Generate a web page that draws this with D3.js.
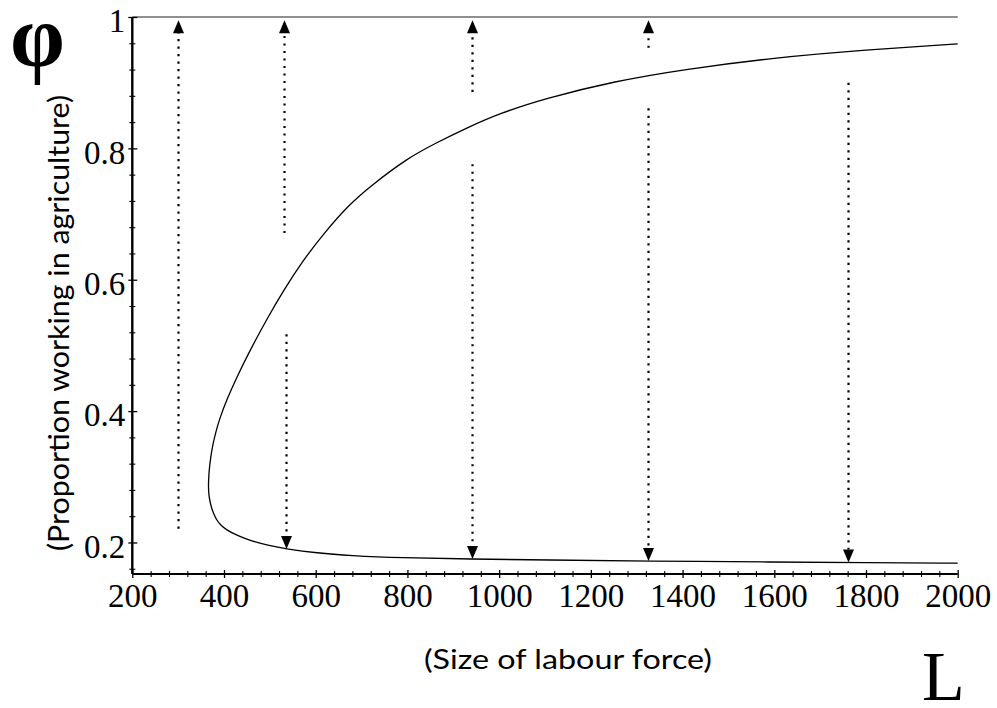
<!DOCTYPE html>
<html>
<head>
<meta charset="utf-8">
<script src="https://cdn.jsdelivr.net/npm/d3@7"></script>
<style>
  html, body { margin: 0; padding: 0; background: #fff; }
  svg { display: block; }
</style>
</head>
<body>
<svg id="chart" width="997" height="708"></svg>
<script>
// ---- data ----
// equilibrium curve, ordered from the upper branch end through the fold to the lower branch end
const curveL   = [2000, 1800, 1600, 1400, 1250, 1100, 1000, 938, 860, 800, 720, 672, 617, 573, 530, 496.5, 457, 426.7, 405.7, 391.3, 382.7, 375.9, 370.9, 367.6, 366.3, 366,
                  367, 369.5, 373, 378, 384, 393, 406, 422, 442, 466, 493, 537, 602, 675, 784, 938, 1100, 1327, 1600, 1800, 2000];
const curvePhi = [0.959, 0.950, 0.938, 0.920, 0.902, 0.876, 0.853, 0.834, 0.8075, 0.785, 0.743, 0.714, 0.670, 0.630, 0.584, 0.544, 0.493, 0.450, 0.417, 0.390, 0.370, 0.350, 0.330, 0.310, 0.295, 0.283,
                  0.272, 0.262, 0.252, 0.243, 0.234, 0.226, 0.219, 0.213, 0.207, 0.201, 0.196, 0.190, 0.184, 0.180, 0.1765, 0.1748, 0.1733, 0.1717, 0.1702, 0.1693, 0.1685];
// upper stable equilibrium phi = 1
const topLineL   = [200, 2000];
const topLinePhi = [1, 1];
// dotted arrows: L position, start phi, end phi (tip)
const arrowL     = [300,   530,   535,   940,   940,    1325,  1325,   1760];
const arrowFrom  = [0.221, 0.671, 0.517, 0.886, 0.776,  0.953, 0.861,  0.900];
const arrowTo    = [0.995, 0.995, 0.190, 0.995, 0.1748, 0.995, 0.1717, 0.1695];
// ticks
const xMajorTicks = [200, 400, 600, 800, 1000, 1200, 1400, 1600, 1800, 2000];
const yMajorTicks = [0.2, 0.4, 0.6, 0.8, 1];
const yTickLabels = ["0.2", "0.4", "0.6", "0.8", "1"];
const xTitle = "(Size of labour force)";
const yTitle = "(Proportion working in agriculture)";
const xSymbol = "L";
const ySymbol = "φ";

// ---- drawing ----
const svg = d3.select("#chart");
const x = d3.scaleLinear().domain([200, 2000]).range([132.3, 957.7]);
const y = d3.scaleLinear().domain([0.152, 1]).range([574, 17]);

const xMinor = d3.range(240, 2000, 40).filter(v => v % 200 !== 0);
const yMinor = d3.range(16, 100, 4).map(v => v / 100).filter(v => Math.round(v * 100) % 20 !== 0);

const serif = "'Liberation Serif', 'DejaVu Serif', serif";
const sans = "Lato, 'Liberation Sans', sans-serif";

// top line phi=1
svg.append("path")
  .attr("d", d3.line().x((d, i) => x(topLineL[i])).y((d, i) => y(topLinePhi[i]))(topLineL))
  .attr("stroke", "#6a6a6a").attr("stroke-width", 1.6).attr("fill", "none");

// x axis
const gx = svg.append("g").attr("transform", `translate(0,${y.range()[0]})`);
gx.call(d3.axisBottom(x).tickValues(xMajorTicks).tickFormat(d3.format("d")).tickSize(4).tickSizeOuter(0));
gx.select(".domain").attr("stroke", "#000").attr("stroke-width", 2.2).attr("d", `M${x(200)},0H${x(2000)}`);
gx.selectAll(".tick line").attr("y1", -4).attr("y2", 4).attr("stroke-width", 1.3);
gx.selectAll(".tick text").attr("y", 33).attr("dy", 0).attr("font-family", serif).attr("font-size", 33).attr("fill", "#000");
const gxm = svg.append("g").attr("transform", `translate(0,${y.range()[0]})`);
gxm.call(d3.axisBottom(x).tickValues(xMinor).tickFormat("").tickSizeOuter(0));
gxm.select(".domain").remove();
gxm.selectAll(".tick line").attr("y1", -3).attr("y2", 3).attr("stroke-width", 1.1);

// y axis
const gy = svg.append("g").attr("transform", `translate(${x.range()[0]},0)`);
gy.call(d3.axisLeft(y).tickValues(yMajorTicks).tickFormat((d, i) => yTickLabels[i]).tickSize(4).tickSizeOuter(0));
gy.select(".domain").attr("stroke", "#000").attr("stroke-width", 2.4).attr("d", `M0,${y(0.152)}V${y(1)}`);
gy.selectAll(".tick line").attr("x1", -4).attr("x2", 5).attr("stroke-width", 1.3);
gy.selectAll(".tick text").attr("x", -7).attr("dy", "0.45em").attr("font-family", serif).attr("font-size", 33).attr("fill", "#000");
const gym = svg.append("g").attr("transform", `translate(${x.range()[0]},0)`);
gym.call(d3.axisLeft(y).tickValues(yMinor).tickFormat("").tickSizeOuter(0));
gym.select(".domain").remove();
gym.selectAll(".tick line").attr("x1", -3).attr("x2", 3).attr("stroke-width", 1.1);

// curve
const line = d3.line()
  .x((d, i) => x(curveL[i]))
  .y((d, i) => y(curvePhi[i]))
  .curve(d3.curveBasis);
svg.append("path")
  .attr("d", line(curveL))
  .attr("fill", "none").attr("stroke", "#000").attr("stroke-width", 1.3);

// arrows
const headLen = 13, headHalf = 5.5;
arrowL.forEach((L, i) => {
  const px = Math.round(x(L)) + 0.5;
  const y0 = y(arrowFrom[i]);
  const y1 = y(arrowTo[i]);
  const dir = y1 < y0 ? -1 : 1; // -1 upward
  const baseY = y1 - dir * headLen;
  svg.append("line")
    .attr("x1", px).attr("x2", px).attr("y1", y0).attr("y2", baseY)
    .attr("stroke", "#000").attr("stroke-width", 2.2)
    .attr("stroke-dasharray", "2.2,5.3");
  svg.append("path")
    .attr("d", `M${px},${y1}L${px - headHalf},${baseY}L${px + headHalf},${baseY}Z`)
    .attr("fill", "#000");
});

// titles
svg.append("text")
  .attr("x", 568).attr("y", 669)
  .attr("text-anchor", "middle")
  .attr("font-family", sans).attr("font-size", 27)
  .attr("textLength", 288).attr("lengthAdjust", "spacingAndGlyphs")
  .text(xTitle);
svg.append("text")
  .attr("transform", "translate(69,323) rotate(-90)")
  .attr("text-anchor", "middle")
  .attr("font-family", sans).attr("font-size", 28)
  .attr("textLength", 456).attr("lengthAdjust", "spacingAndGlyphs")
  .text(yTitle);
svg.append("text")
  .attr("x", 10).attr("y", 66)
  .attr("font-family", serif).attr("font-size", 88).attr("font-weight", "bold")
  .text(ySymbol);
svg.append("text")
  .attr("x", 922).attr("y", 700)
  .attr("font-family", serif).attr("font-size", 70)
  .text(xSymbol);
</script>
</body>
</html>
